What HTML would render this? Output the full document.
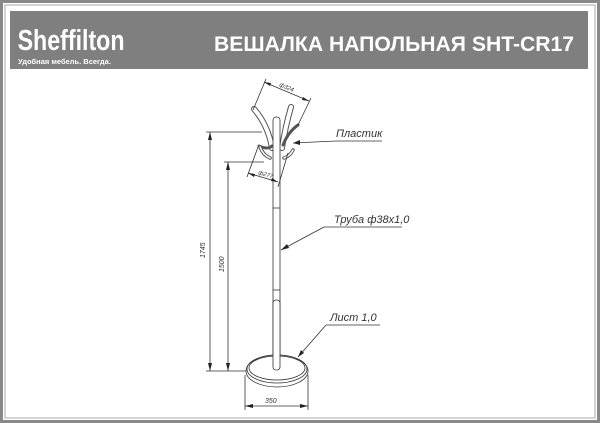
<!DOCTYPE html>
<html><head><meta charset="utf-8"><style>
html,body{margin:0;padding:0;background:#fff}
svg{display:block}
</style></head><body>
<svg width="600" height="423" viewBox="0 0 600 423" xmlns="http://www.w3.org/2000/svg">
<rect x="0" y="0" width="600" height="423" fill="#fff"/>
<rect x="1.5" y="1.5" width="597" height="420" fill="none" stroke="#888" stroke-width="3"/>
<rect x="5" y="5" width="590" height="413" fill="none" stroke="#aaa" stroke-width="1"/>
<rect x="10" y="11" width="578" height="58" fill="#7f7f7f"/>
<text x="22" y="50" font-family="Liberation Sans, sans-serif" font-size="29" font-weight="bold" fill="#fff" transform="scale(0.8,1)">Sheffilton</text>
<text x="18" y="64" font-family="Liberation Sans, sans-serif" font-size="7.5" font-weight="bold" fill="#fff">Удобная мебель. Всегда.</text>
<text x="214" y="51" font-family="Liberation Sans, sans-serif" font-size="21" font-weight="bold" fill="#fff" textLength="360" lengthAdjust="spacingAndGlyphs">ВЕШАЛКА НАПОЛЬНАЯ SHT-CR17</text>
<g stroke="#333" fill="none" stroke-width="0.8">
<g stroke-linecap="round">
<path d="M254 109 Q268 125 272 148" stroke-width="6" stroke="#555"/>
<path d="M254 109 Q268 125 272 148" stroke-width="4" stroke="#fff"/>
<path d="M291 107 Q285 128 282 148" stroke-width="6" stroke="#555"/>
<path d="M291 107 Q285 128 282 148" stroke-width="4" stroke="#fff"/>
<path d="M259 146 Q268 150 272 146" stroke-width="3" stroke="#555"/>
<path d="M298 125 Q288 132 283 145" stroke-width="3" stroke="#555"/>
<path d="M260 147 Q263 155 270 158" stroke-width="3.5" stroke="#555"/>
<path d="M260 147 Q263 155 270 158" stroke-width="1.5" stroke="#fff"/>
<path d="M293 150 Q290 156 284 158" stroke-width="3.5" stroke="#555"/>
<path d="M293 150 Q290 156 284 158" stroke-width="1.5" stroke="#fff"/>
</g>
<rect x="273" y="117" width="7" height="253" rx="3" fill="#fff"/>
<line x1="273" y1="208" x2="280" y2="208"/>
<line x1="273" y1="290" x2="280" y2="290"/>
<ellipse cx="277" cy="371" rx="31" ry="16" fill="#fff"/>
<ellipse cx="277" cy="369" rx="30" ry="14"/>
<ellipse cx="277" cy="368" rx="28" ry="12"/>
<rect x="273" y="300" width="7" height="70" rx="3" fill="#fff"/>
<line x1="210" y1="132" x2="210" y2="371"/>
<line x1="228" y1="162" x2="228" y2="371"/>
<line x1="206" y1="132" x2="262" y2="132"/>
<line x1="224" y1="162" x2="264" y2="162"/>
<line x1="206" y1="371" x2="246" y2="371"/>
<line x1="245" y1="375" x2="245" y2="410"/>
<line x1="308" y1="375" x2="308" y2="410"/>
<line x1="245" y1="406" x2="308" y2="406"/>
<line x1="266" y1="79" x2="253" y2="110"/>
<line x1="311" y1="98" x2="298" y2="125"/>
<line x1="264" y1="82" x2="309" y2="101"/>
<line x1="258" y1="147" x2="247" y2="177"/>
<line x1="288" y1="153" x2="278" y2="187"/>
<line x1="248" y1="173" x2="278" y2="182"/>
<line x1="293" y1="143" x2="336" y2="141"/>
<line x1="336" y1="141" x2="382" y2="141"/>
<line x1="281" y1="250" x2="324" y2="227"/>
<line x1="324" y1="227" x2="402" y2="227"/>
<line x1="298" y1="357" x2="326" y2="325"/>
<line x1="326" y1="325" x2="380" y2="325"/>
</g>
<g fill="#222">
<polygon points="210,132 208,140 212,140"/>
<polygon points="228,162 226,170 230,170"/>
<polygon points="210,371 208,363 212,363"/>
<polygon points="228,371 226,363 230,363"/>
<polygon points="245,406 253,404 253,408"/>
<polygon points="308,406 300,404 300,408"/>
<polygon points="281,250 287,244 289,248"/>
<polygon points="298,357 301,350 304,353"/>
<polygon points="293,143 300,140 300,145"/>
<polygon points="264,82 271,83 270,86"/>
<polygon points="309,101 302,100 303,97"/>
<polygon points="248,173 255,174 254,177"/>
<polygon points="278,182 271,181 272,178"/>
</g>
<g font-family="Liberation Sans, sans-serif" font-style="italic" fill="#333">
<text x="336" y="137" font-size="11">Пластик</text>
<text x="334" y="223" font-size="11">Труба ф38х1,0</text>
<text x="330" y="321" font-size="11">Лист 1,0</text>
<text x="265" y="403" font-size="7">350</text>
<text x="279" y="86" font-size="6" transform="rotate(23 279 86)">ф324</text>
<text x="258" y="174" font-size="6" transform="rotate(17 258 174)">ф277</text>
<text x="205" y="258" font-size="7" transform="rotate(-90 205 258)">1745</text>
<text x="224" y="272" font-size="7" transform="rotate(-90 224 272)">1500</text>
</g>
</svg>
</body></html>
